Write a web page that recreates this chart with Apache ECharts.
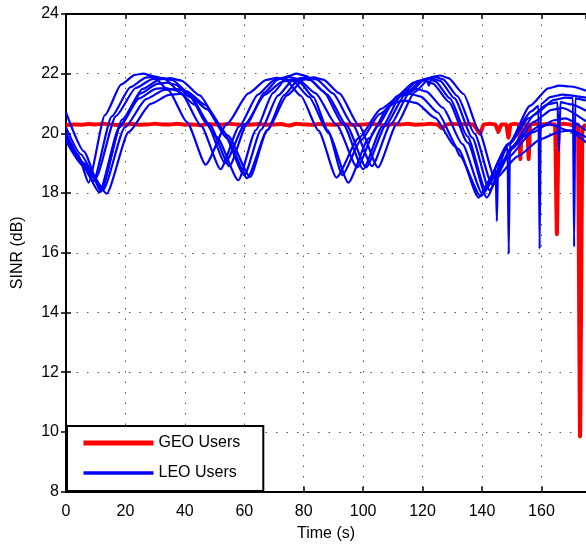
<!DOCTYPE html>
<html>
<head>
<meta charset="utf-8">
<script src="https://cdn.jsdelivr.net/npm/echarts@6/dist/echarts.min.js"></script>
<style>
html,body{margin:0;padding:0;background:#fff;}
#chart{width:586px;height:547px;}
</style>
</head>
<body>
<div id="chart"></div>
<script>
// ---- data (time in s, SINR in dB) ----
const xTicks = [0, 20, 40, 60, 80, 100, 120, 140, 160];
const yTicks = [8, 10, 12, 14, 16, 18, 20, 22, 24];

const geoUsers = [[0,20.28],[2.5,20.3],[5,20.29],[7.5,20.31],[10,20.3],[12.5,20.32],[15,20.3],[17.5,20.28],[20,20.3],[22.5,20.31],[25,20.29],[27.5,20.3],[30,20.32],[32.5,20.3],[35,20.3],[37.5,20.32],[40,20.29],[42.5,20.3],[45,20.27],[47.5,20.31],[50,20.3],[52.5,20.29],[55,20.32],[57.5,20.3],[60,20.28],[62.5,20.3],[65,20.31],[67.5,20.29],[70,20.3],[72.5,20.31],[75,20.26],[77.5,20.32],[80,20.3],[82.5,20.29],[85,20.31],[87.5,20.3],[90,20.29],[92.5,20.31],[95,20.3],[97.5,20.28],[100,20.3],[102.5,20.32],[105,20.3],[107.5,20.27],[110,20.31],[112.5,20.3],[115,20.32],[117.5,20.29],[120,20.3],[122.5,20.32],[125,20.3],[126.5,20.17],[128,20.3],[130,20.32],[132.5,20.3],[135,20.31],[137,20.3],[139.4,19.98],[140.5,20.3],[142.5,20.32],[144.5,20.3],[145.5,20.05],[146.5,20.3],[148.2,20.3],[148.9,19.85],[149.6,20.3],[151,20.32],[152.4,20.3],[152.9,19.14],[153.4,20.3],[155.2,20.3],[155.7,19.14],[156.2,20.3],[158,20.32],[160,20.3],[162,20.31],[164.6,20.3],[165.2,16.62],[165.8,20.3],[167.5,20.32],[169.5,20.3],[171,20.25],[172.3,20.3],[173,9.85],[173.8,20.2],[175,20.3]];

const leoUser1 = [[0,20.0],[4,19.3],[7.6,18.35],[13.1,20.61],[18.6,21.64],[23.2,21.96],[26,22.0],[29.2,21.92],[34.4,21.45],[40.7,20.38],[47,18.95],[54.2,20.32],[61.4,21.34],[67.4,21.79],[71,21.86],[74,21.78],[79,21.26],[85,20.09],[91,18.52],[98.5,19.84],[106,20.82],[112.3,21.25],[116,21.32],[119.4,21.23],[125.1,20.7],[132,19.48],[138.8,17.85],[144.6,18.76],[145,17.06],[145.4,18.89],[146.1,19.0],[153.3,19.86],[159.4,20.24],[163,20.3],[169,20.1],[175,19.7]];
const leoUser2 = [[0,19.9],[4.5,19.1],[9.2,18.4],[15.4,20.57],[21.7,21.55],[26.9,21.87],[30,21.9],[33.3,21.82],[38.8,21.34],[45.4,20.26],[52,18.8],[58.3,20.23],[64.6,21.3],[69.9,21.77],[73,21.85],[76.3,21.76],[81.8,21.22],[88.4,20.0],[95,18.35],[101.9,19.83],[108.8,20.92],[114.6,21.41],[118,21.49],[121.3,21.4],[126.8,20.86],[133.4,19.64],[140,18.0],[147.8,19.43],[148.6,19.54],[149,15.96],[149.4,19.65],[155.6,20.5],[162.1,20.97],[165.4,21.04],[165.9,19.4],[166.4,21.05],[170,20.97],[175,20.76]];
const leoUser3 = [[0,20.2],[5,19.3],[10,18.5],[16.8,20.58],[23.5,21.52],[29.1,21.82],[32.5,21.85],[35.9,21.78],[41.5,21.32],[48.3,20.29],[55,18.9],[60.9,20.31],[66.7,21.36],[71.6,21.83],[74.5,21.9],[78,21.82],[83.9,21.35],[91,20.29],[98,18.86],[104.7,20.23],[111.4,21.25],[117,21.7],[120.3,21.77],[123.5,21.67],[128.8,21.06],[135.2,19.69],[141.6,17.85],[148.9,19.61],[156.2,20.93],[162.3,21.51],[166,21.6],[170,21.57],[175,21.43]];
const leoUser4 = [[0,19.8],[5.5,18.95],[11.2,18.02],[17.9,20.19],[24.6,21.17],[30.2,21.49],[33.5,21.52],[37.2,21.44],[43.3,20.96],[50.7,19.88],[58,18.43],[63.9,20.11],[69.7,21.36],[74.6,21.91],[77.5,22.0],[80.9,21.92],[86.5,21.42],[93.3,20.3],[100,18.8],[106.4,20.22],[112.8,21.28],[118.2,21.75],[121.4,21.83],[122.1,21.6],[122.8,21.8],[124.3,21.74],[129.2,21.17],[135.1,19.9],[141,18.18],[148.8,19.65],[156.6,20.74],[159,20.92],[159.4,16.13],[159.8,20.98],[163.1,21.22],[167,21.3],[175,21.2]];
const leoUser5 = [[0,20.0],[6,19.0],[12,18.2],[18.9,20.46],[25.8,21.49],[31.6,21.81],[35,21.85],[38.8,21.77],[45,21.27],[52.5,20.13],[60,18.6],[65.7,20.13],[71.4,21.27],[76.2,21.77],[79,21.85],[82.3,21.78],[87.8,21.31],[94.4,20.27],[101,18.86],[107.6,20.27],[114.2,21.31],[119.7,21.78],[123,21.85],[125.9,21.76],[130.7,21.18],[136.7,19.86],[142.5,18.1],[150.2,19.56],[157.8,20.64],[164.2,21.12],[168,21.2],[170.6,21.18],[171,16.2],[171.4,21.17],[175,21.1]];
const leoUser6 = [[0,19.75],[6,18.9],[12.5,18.1],[19.8,20.2],[27,21.15],[33.1,21.46],[36.7,21.49],[40.5,21.42],[46.8,20.96],[54.4,19.93],[62,18.54],[67.7,20.11],[73.4,21.28],[78.2,21.8],[81,21.88],[84.3,21.81],[89.8,21.34],[96.4,20.3],[103,18.9],[109.3,20.31],[115.6,21.36],[120.9,21.83],[124,21.9],[126.9,21.81],[131.7,21.25],[137.5,19.99],[143.3,18.3],[150.4,19.5],[157.5,20.39],[163.4,20.79],[167,20.85],[175,20.4]];
const leoUser7 = [[0,19.9],[7,18.9],[13.7,17.98],[21.1,20.05],[28.5,20.99],[34.7,21.29],[38.4,21.32],[41.8,21.25],[47.4,20.81],[54.2,19.83],[61,18.5],[67.7,20.09],[74.4,21.27],[80,21.8],[83.3,21.88],[86.6,21.8],[92,21.34],[98.5,20.28],[105,18.86],[111.3,20.31],[117.4,21.39],[122.6,21.86],[125.9,21.94],[128.7,21.85],[133.8,21.32],[138.9,20.1],[144.4,18.47],[152.1,19.24],[159.8,19.81],[166.2,20.06],[170,20.1],[175,19.87]];
const leoUser8 = [[0,20.7],[6,19.4],[11.8,18.05],[18.5,20.31],[25.1,21.34],[30.7,21.66],[34,21.7],[36.9,21.63],[41.8,21.21],[47.7,20.27],[53.5,19.0],[60.3,20.32],[67,21.3],[72.6,21.73],[76,21.8],[78.5,21.72],[83.2,21.22],[88.1,20.1],[93,18.6],[99.3,19.78],[105.6,20.65],[110.9,21.04],[114,21.1],[117.8,21.02],[124.2,20.52],[131,19.55],[132.5,19.25],[139.5,17.9],[148,19.12],[157,20.03],[164.2,20.44],[168,20.5],[175,20.1]];

const leoUsers = [leoUser1, leoUser2, leoUser3, leoUser4, leoUser5, leoUser6, leoUser7, leoUser8];

const FONT = '"Liberation Sans", Arial, Helvetica, sans-serif';
const chart = echarts.init(document.getElementById('chart'), null, {renderer: 'canvas'});

const axisLineStyle = {color: '#000', width: 2};
const tickStyle = {show: true, inside: true, length: 5, lineStyle: {color: '#000', width: 1.5}};
const gridLineStyle = {color: '#555', width: 1, type: [1.5, 9]};

const series = [{
  name: 'GEO Users', type: 'line', data: geoUsers, symbol: 'none',
  lineStyle: {color: '#ff0000', width: 4}, itemStyle: {color: '#ff0000'},
  smooth: 0.15, smoothMonotone: 'x', z: 2
}];
leoUsers.forEach(function (d) {
  series.push({
    name: 'LEO Users', type: 'line', data: d, symbol: 'none',
    lineStyle: {color: '#0000ff', width: 2.2}, itemStyle: {color: '#0000ff'},
    smooth: 0.2, smoothMonotone: 'x', z: 3
  });
});

chart.setOption({
  animation: false,
  backgroundColor: '#fff',
  grid: {left: 66, top: 14, width: 521, height: 477.5, containLabel: false},
  xAxis: [{
    type: 'value', min: 0, max: 175, interval: 20, position: 'bottom',
    name: 'Time (s)', nameLocation: 'middle', nameGap: 34,
    nameTextStyle: {color: '#000', fontSize: 16, fontFamily: FONT},
    axisLine: {show: true, lineStyle: axisLineStyle},
    axisTick: tickStyle,
    axisLabel: {color: '#000', fontSize: 16, fontFamily: FONT, margin: 12, showMaxLabel: false,
      formatter: function (v) { return xTicks.indexOf(v) >= 0 ? String(v) : ''; }},
    splitLine: {show: true, lineStyle: gridLineStyle}
  }, {
    type: 'value', min: 0, max: 175, interval: 20, position: 'top',
    axisLine: {show: true, onZero: false, lineStyle: axisLineStyle},
    axisTick: tickStyle, axisLabel: {show: false}, splitLine: {show: false}
  }],
  yAxis: [{
    type: 'value', min: 8, max: 24, interval: 2, position: 'left',
    name: 'SINR (dB)', nameLocation: 'middle', nameGap: 40, nameRotate: 90,
    nameTextStyle: {color: '#000', fontSize: 16, fontFamily: FONT},
    axisLine: {show: true, onZero: false, lineStyle: axisLineStyle},
    axisTick: tickStyle,
    axisLabel: {color: '#000', fontSize: 16, fontFamily: FONT, margin: 7,
      formatter: function (v) { return yTicks.indexOf(v) >= 0 ? String(v) : ''; }},
    splitLine: {show: true, lineStyle: gridLineStyle}
  }, {
    type: 'value', min: 8, max: 24, interval: 2, position: 'right',
    axisLine: {show: false},
    axisTick: tickStyle, axisLabel: {show: false}, splitLine: {show: false}
  }],
  legend: {
    orient: 'vertical', left: 67, top: 426,
    padding: [9, 23, 10, 14], itemGap: 14,
    itemWidth: 70, itemHeight: 16,
    backgroundColor: '#fff', borderColor: '#000', borderWidth: 2, borderRadius: 0,
    textStyle: {color: '#000', fontSize: 16, fontFamily: FONT, lineHeight: 16},
    itemStyle: {opacity: 0},
    data: [
      {name: 'GEO Users', lineStyle: {width: 5, color: '#ff0000'}, itemStyle: {opacity: 0}},
      {name: 'LEO Users', lineStyle: {width: 3.5, color: '#0000ff'}, itemStyle: {opacity: 0}}
    ],
    selectedMode: false
  },
  series: series
});
</script>
</body>
</html>
